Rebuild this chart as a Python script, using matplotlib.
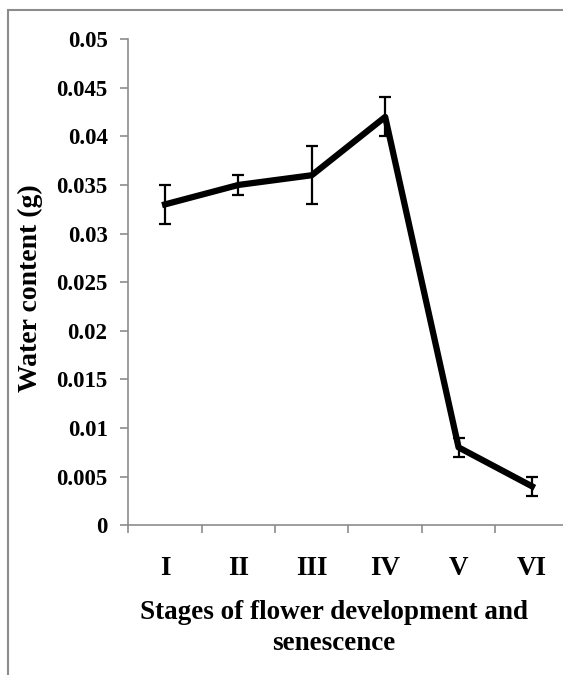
import numpy as np
import matplotlib
matplotlib.use('Agg')
import matplotlib.pyplot as plt
from matplotlib.patches import Rectangle

stages = ['I', 'II', 'III', 'IV', 'V', 'VI']
water = [0.033, 0.035, 0.036, 0.042, 0.008, 0.004]
err = [0.002, 0.001, 0.003, 0.002, 0.001, 0.001]
ytick_labels = ['0', '0.005', '0.01', '0.015', '0.02', '0.025', '0.03',
                '0.035', '0.04', '0.045', '0.05']

plt.rcParams['font.family'] = 'Liberation Serif'
plt.rcParams['font.weight'] = 'bold'

fig = plt.figure(figsize=(5.63, 6.75), dpi=100)
ax = fig.add_axes([0.228, 0.222, 0.782, 0.720])

# outer chart border (right and bottom run off the page)
fig.patches.append(Rectangle((0.014, -0.05), 1.2, 1.035, transform=fig.transFigure,
                             fill=False, edgecolor='#8c8c8c', linewidth=1.5))

x = np.arange(len(stages))
ax.errorbar(x, water, yerr=err, color='black', linewidth=4.5,
            ecolor='black', elinewidth=1.6, capsize=4, capthick=1.6)

ax.set_xlim(-0.5, len(stages) - 0.5)
ax.set_ylim(0, 0.05)
ax.set_yticks(np.arange(0, 0.0501, 0.005))
ax.set_yticklabels(ytick_labels, fontsize=16.5, fontweight='bold')
ax.set_xticks(x)
ax.set_xticklabels(stages, fontsize=19.5, fontweight='bold')
ax.set_xticks(np.arange(-0.5, len(stages)), minor=True)

ax.tick_params(axis='x', which='major', length=0, pad=22)
ax.tick_params(axis='x', which='minor', length=6, width=1.2, color='#8c8c8c', direction='out')
ax.tick_params(axis='y', length=6, width=1.2, color='#8c8c8c', direction='out', pad=9)

for s in ['top', 'right']:
    ax.spines[s].set_visible(False)
for s in ['left', 'bottom']:
    ax.spines[s].set_color('#8c8c8c')
    ax.spines[s].set_linewidth(1.2)

ax.set_ylabel('Water content (g)', fontsize=20, fontweight='bold')
ax.yaxis.set_label_coords(-0.194, 0.488)
ax.set_xlabel('Stages of flower development and\nsenescence', fontsize=19.5,
              fontweight='bold', linespacing=1.3)
ax.xaxis.set_label_coords(0.467, -0.155)

fig.savefig('out.png', dpi=100)
